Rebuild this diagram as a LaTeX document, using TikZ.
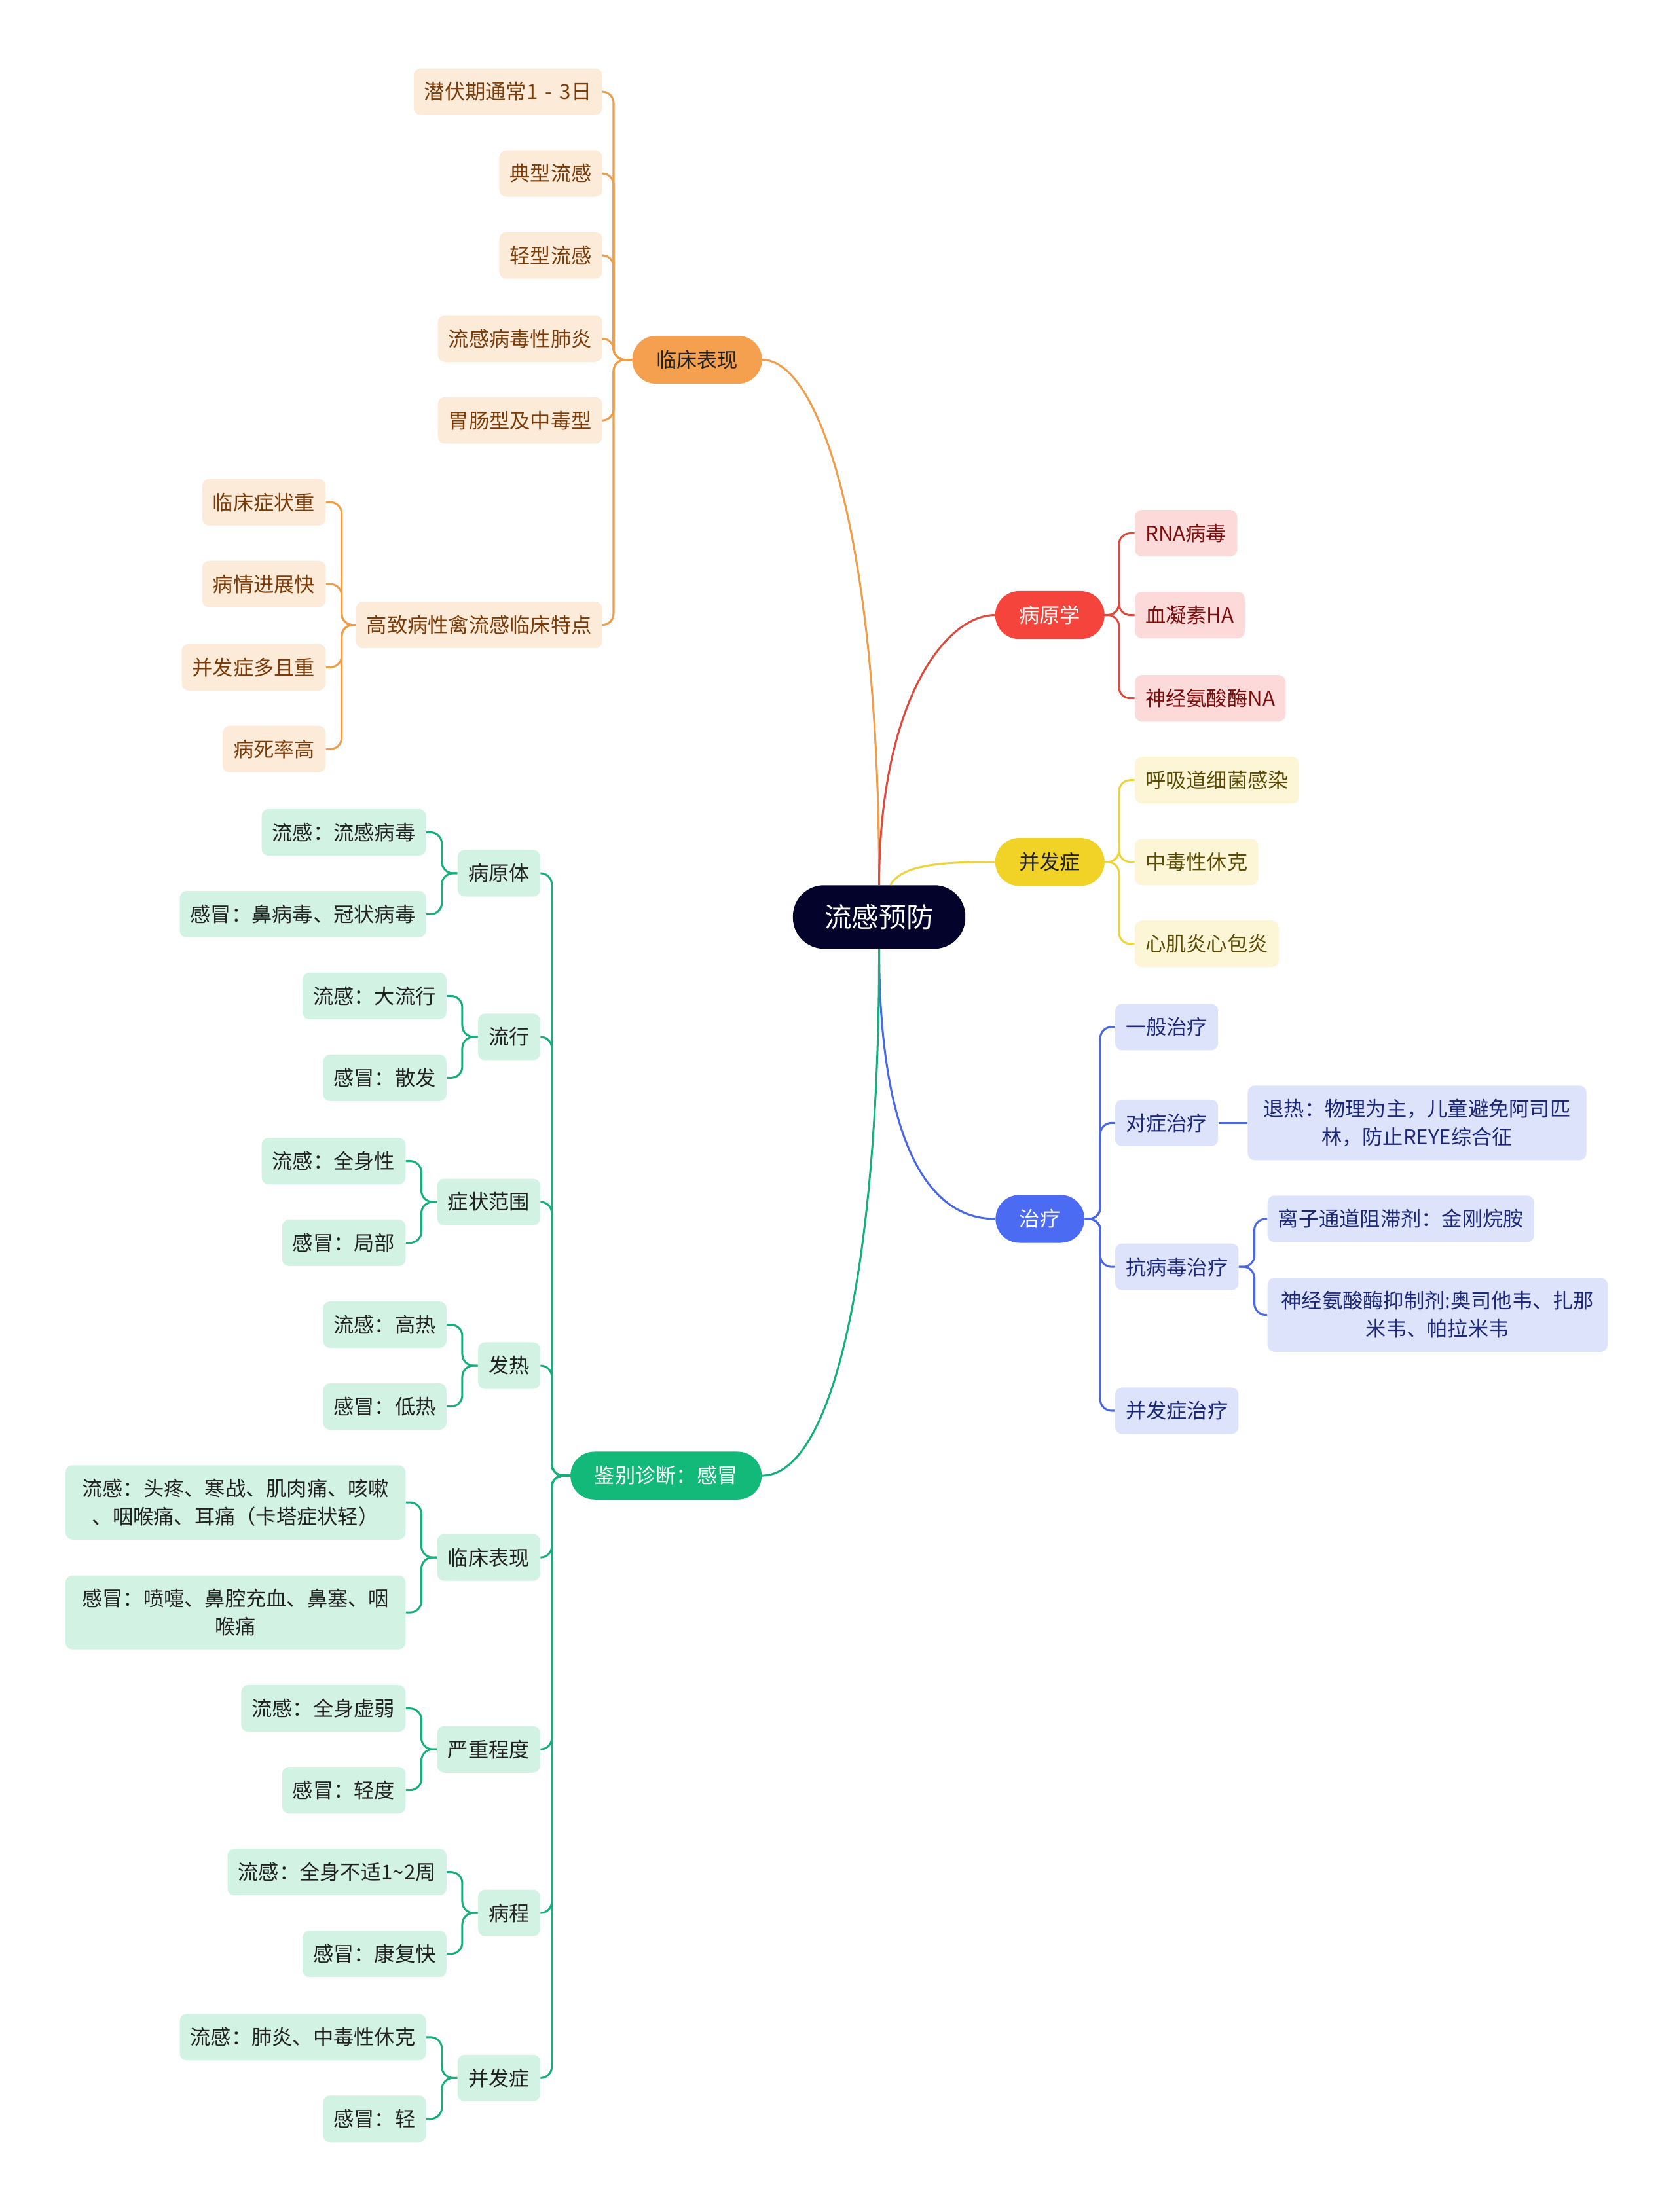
\documentclass[tikz,border=0pt]{standalone}
\usepackage{fontspec}
\setmainfont{Noto Sans CJK SC}
\usepackage{xcolor}
\usetikzlibrary{positioning,calc}
\definecolor{RootNavy}{HTML}{03032B}
\definecolor{OrangeMain}{HTML}{F5A04F}
\definecolor{OrangeLine}{HTML}{EE9D4B}
\definecolor{OrangeLeaf}{HTML}{FDEBDA}
\definecolor{OrangeText}{HTML}{7A3C0A}
\definecolor{RedMain}{HTML}{F5443B}
\definecolor{RedLine}{HTML}{DF4A3E}
\definecolor{RedLeaf}{HTML}{FCDADA}
\definecolor{RedText}{HTML}{7C0E0E}
\definecolor{GoldMain}{HTML}{F1D226}
\definecolor{GoldLine}{HTML}{EDD33C}
\definecolor{GoldLeaf}{HTML}{FDF6D6}
\definecolor{GoldText}{HTML}{5A4A05}
\definecolor{BlueMain}{HTML}{4B6CF2}
\definecolor{BlueLine}{HTML}{4A67E6}
\definecolor{BlueLeaf}{HTML}{DCE3FB}
\definecolor{BlueText}{HTML}{1D2878}
\definecolor{GreenMain}{HTML}{12B978}
\definecolor{GreenLine}{HTML}{16AF7A}
\definecolor{GreenLeaf}{HTML}{D2F3E4}
\definecolor{TextDark}{HTML}{222222}

\begin{document}
\begin{tikzpicture}[x=1pt,y=-1pt,
    every node/.style={font=\fontsize{14.5}{20}\selectfont, inner sep=0pt},
    pill/.style={rounded corners=17pt, minimum height=34pt, inner xsep=17pt},
    leaf/.style={rounded corners=5pt, minimum height=33pt, inner xsep=7.5pt,
      inner ysep=9.5pt, align=center},
    link/.style={line width=1.4pt, rounded corners=8pt}]
  \path[use as bounding box, fill=white] (0,0) rectangle (1188,1568);

  % root and main branches
  \node[fill=RootNavy, text=white, rounded corners=22pt, minimum height=45pt,
    inner xsep=22.5pt, font=\fontsize{19.3}{23}\selectfont] (root) at (623,650) {流感预防};
  \node[pill, fill=OrangeMain, text=TextDark] (clinic) at (494,255) {临床表现};
  \node[pill, fill=RedMain, text=white] (patho) at (744,436) {病原学};
  \node[pill, fill=GoldMain, text=TextDark] (compl) at (744,611) {并发症};
  \node[pill, fill=BlueMain, text=white] (treat) at (737,864) {治疗};
  \node[pill, fill=GreenMain, text=white] (diff) at (472,1046) {鉴别诊断：感冒};

  \draw[line width=1.4pt, OrangeLine] (root.north) .. controls ($(root.north)+(0,-248)$)
    and ($(clinic.east)+(40,0)$) .. (clinic.east);
  \draw[line width=1.4pt, RedLine] (patho.west) .. controls ($(patho.west)+(-36,0)$)
    and ($(root.north)+(0,-128)$) .. (root.north);
  \draw[line width=1.4pt, GoldLine] (compl.west) .. controls ($(compl.west)+(-40,0)$)
    and ($(root.north)+(16,-14)$) .. ($(root.north)+(8,0)$);
  \draw[line width=1.4pt, BlueLine] (root.south) .. controls ($(root.south)+(0,117)$)
    and ($(treat.west)+(-56,0)$) .. (treat.west);
  \draw[line width=1.4pt, GreenLine] (root.south) .. controls ($(root.south)+(0,227)$)
    and ($(diff.east)+(50,0)$) .. (diff.east);

  % clinical picture
  \foreach \i/\y/\txt in {1/65/{潜伏期通常1\hspace{2pt} - \hspace{2pt}3日}, 2/123/典型流感, 3/181/轻型流感,
    4/240/流感病毒性肺炎, 5/298/胃肠型及中毒型, 6/443/高致病性禽流感临床特点}{
    \node[leaf, fill=OrangeLeaf, text=OrangeText, anchor=east] (clinic\i) at (427,\y) {\txt};
    \draw[link, OrangeLine] (clinic.west) -- ++(-13,0) |- (clinic\i.east);
  }
  \foreach \i/\y/\txt in {1/356/临床症状重, 2/414/病情进展快, 3/473/并发症多且重, 4/531/病死率高}{
    \node[leaf, fill=OrangeLeaf, text=OrangeText, anchor=east] (avian\i) at (231,\y) {\txt};
    \draw[link, OrangeLine] (clinic6.west) -- ++(-10,0) |- (avian\i.east);
  }

  % pathogen
  \foreach \i/\y/\txt in {1/378/RNA病毒, 2/436/血凝素HA, 3/495/神经氨酸酶NA}{
    \node[leaf, fill=RedLeaf, text=RedText, anchor=west] (patho\i) at (804,\y) {\txt};
    \draw[link, RedLine] (patho.east) -- ++(10,0) |- (patho\i.west);
  }

  % complications
  \foreach \i/\y/\txt in {1/553/呼吸道细菌感染, 2/611/中毒性休克, 3/669/心肌炎心包炎}{
    \node[leaf, fill=GoldLeaf, text=GoldText, anchor=west] (compl\i) at (804,\y) {\txt};
    \draw[link, GoldLine] (compl.east) -- ++(10,0) |- (compl\i.west);
  }

  % treatment
  \foreach \i/\y/\txt in {1/728/一般治疗, 2/796/对症治疗, 3/898/抗病毒治疗, 4/1000/并发症治疗}{
    \node[leaf, fill=BlueLeaf, text=BlueText, anchor=west] (treat\i) at (790,\y) {\txt};
    \draw[link, BlueLine] (treat.east) -- ++(11,0) |- (treat\i.west);
  }
  \node[leaf, fill=BlueLeaf, text=BlueText, anchor=west, minimum width=240pt] (fever)
    at (884,796) {退热：物理为主，儿童避免阿司匹\\林，防止REYE综合征};
  \draw[link, BlueLine] (treat2.east) -- (fever.west);
  \node[leaf, fill=BlueLeaf, text=BlueText, anchor=west] (drug1)
    at (898,864) {离子通道阻滞剂：金刚烷胺};
  \node[leaf, fill=BlueLeaf, text=BlueText, anchor=west, minimum width=241pt] (drug2)
    at (898,932) {神经氨酸酶抑制剂:奥司他韦、扎那\\米韦、帕拉米韦};
  \foreach \j in {1,2}{
    \draw[link, BlueLine] (treat3.east) -- ++(11,0) |- (drug\j.west);
  }

  % differential diagnosis
  \foreach \i/\y/\txt/\flu/\cold/\dy/\mw in {
    1/619/病原体/{流感：流感病毒}/{感冒：鼻病毒、冠状病毒}/29/0,
    2/735/流行/{流感：大流行}/{感冒：散发}/29/0,
    3/852/症状范围/{流感：全身性}/{感冒：局部}/29/0,
    4/968/发热/{流感：高热}/{感冒：低热}/29/0,
    5/1104/临床表现/{流感：头疼、寒战、肌肉痛、咳嗽\\、咽喉痛、耳痛（卡塔症状轻）}/{感冒：喷嚏、鼻腔充血、鼻塞、咽\\喉痛}/39/241,
    6/1240/严重程度/{流感：全身虚弱}/{感冒：轻度}/29/0,
    7/1356/病程/{流感：全身不适1\textasciitilde 2周}/{感冒：康复快}/29/0,
    8/1473/并发症/{流感：肺炎、中毒性休克}/{感冒：轻}/29/0
    }{
    \node[leaf, fill=GreenLeaf, text=TextDark, anchor=east] (diff\i) at (383,\y) {\txt};
    \draw[link, GreenLine] (diff.west) -- ++(-13,0) |- (diff\i.east);
    \node[leaf, fill=GreenLeaf, text=TextDark, anchor=east, minimum width=\mw pt]
      (flu\i) at ($(diff\i.west)+(-22,-\dy)$) {\flu};
    \node[leaf, fill=GreenLeaf, text=TextDark, anchor=east, minimum width=\mw pt]
      (cold\i) at ($(diff\i.west)+(-22,\dy)$) {\cold};
    \draw[link, GreenLine] (diff\i.west) -- ++(-11,0) |- (flu\i.east);
    \draw[link, GreenLine] (diff\i.west) -- ++(-11,0) |- (cold\i.east);
  }
\end{tikzpicture}
\end{document}
